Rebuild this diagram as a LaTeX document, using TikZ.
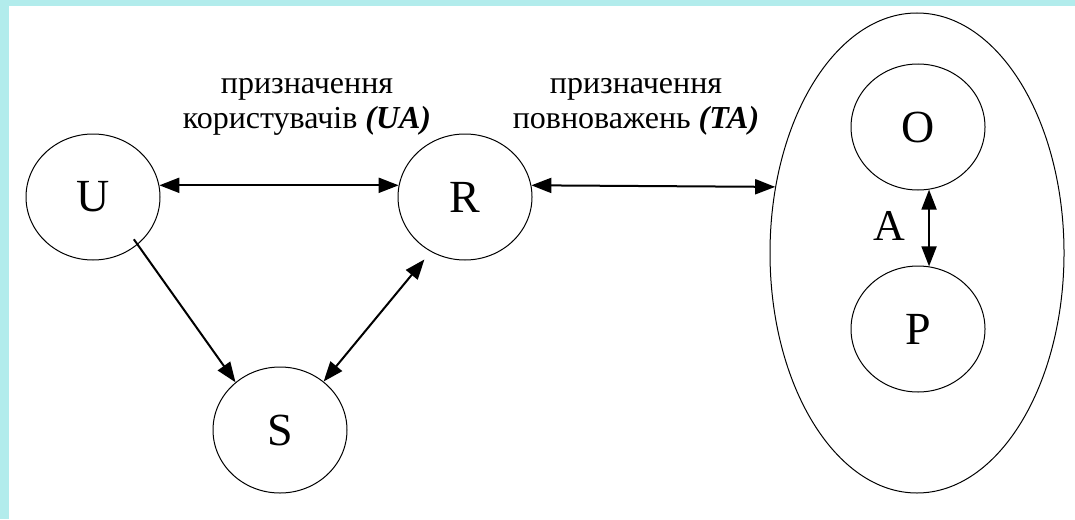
\documentclass[tikz,border=0pt]{standalone}
\usepackage{fontspec}
\setmainfont{Liberation Serif}
\newfontfamily\tnr{Liberation Serif}
\usetikzlibrary{shapes.geometric,arrows.meta,calc}
\definecolor{bandcyan}{RGB}{178,236,236}
\begin{document}
\begin{tikzpicture}[x=1pt,y=-1pt,
  ent/.style={ellipse, draw, line width=1pt, minimum width=134pt, minimum height=126pt, inner sep=0pt, font=\tnr\fontsize{46}{50}\selectfont},
  lbl/.style={font=\tnr\fontsize{32}{35}\selectfont, anchor=base, inner sep=0pt},
  conn/.style={line width=2pt, {Triangle[length=20pt,width=15pt]}-{Triangle[length=20pt,width=15pt]}},
  oneway/.style={line width=2pt, -{Triangle[length=20pt,width=15pt]}}]
\fill[white] (0,0) rectangle (1075,519);
\fill[bandcyan] (0,0) rectangle (1075,6);
\fill[bandcyan] (0,0) rectangle (9,519);
\useasboundingbox (0,0) rectangle (1075,519);

\node[ent] (U) at (93,197) {U};
\node[ent] (R) at (465,197) {R};
\node[ent] (S) at (280,430) {S};
\node[ellipse, draw, line width=1pt, minimum width=294pt, minimum height=480pt, inner sep=0pt] (T) at (917,253) {};
\node[ent] (O) at (918,127) {O};
\node[ent] (P) at (918,329) {P};
\node[font=\tnr\fontsize{44}{48}\selectfont, inner sep=0pt] (A) at (889,226) {A};

\node[lbl] (ua1) at (307,93) {призначення};
\node[lbl] (ua2) at (307,128) {користувачів \textbf{\textit{(UA)}}};
\node[lbl] (ta1) at (636,93) {призначення};
\node[lbl] (ta2) at (636,128) {повноважень \textbf{\textit{(TA)}}};

\draw[conn] (U.10) -- (R.170);
\draw[conn] (R.10) -- (T.155);
\draw[oneway] ($(U.center)!0.9!(U.-46)$) -- (S.133);
\draw[conn, shorten >=10pt] (S.48) -- (R.-122);
\draw[conn] (O.-80) -- (P.80);
\end{tikzpicture}
\end{document}
